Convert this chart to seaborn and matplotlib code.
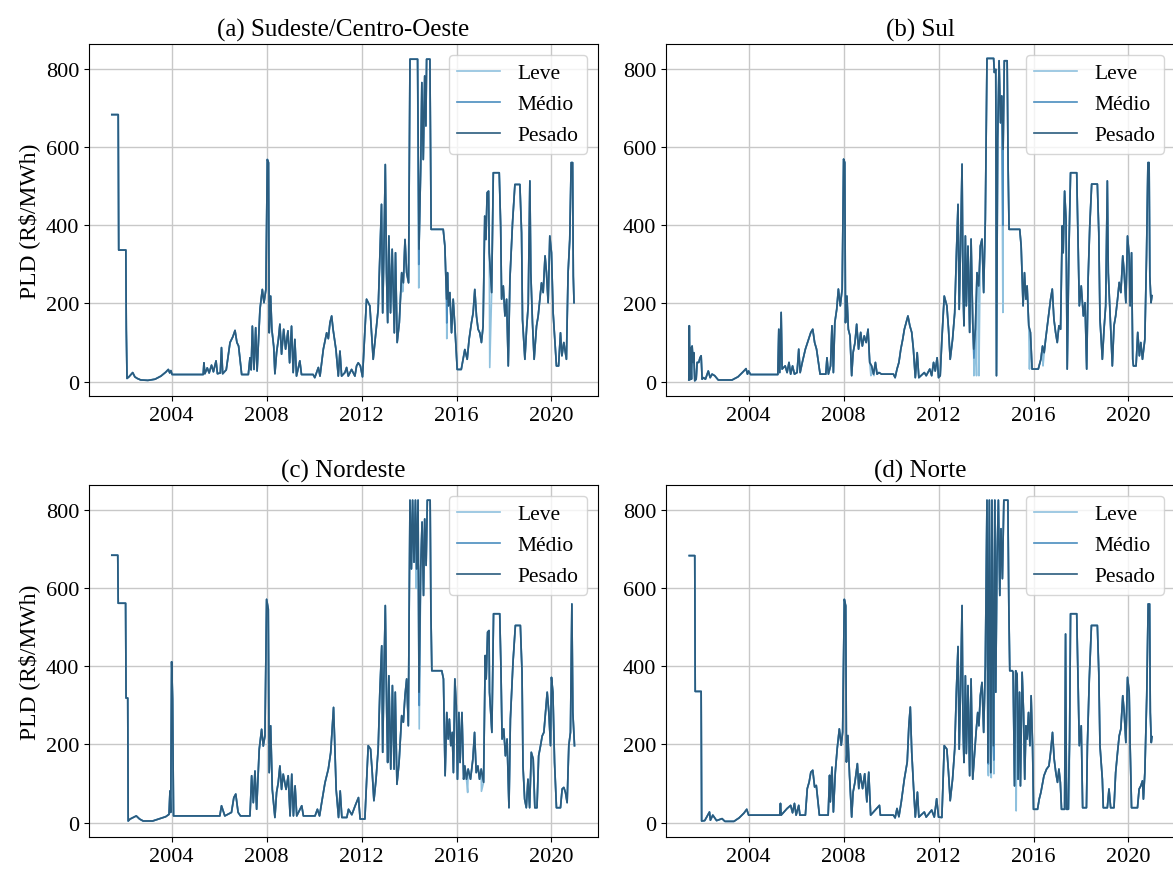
import pandas as pd
import seaborn as sns
import matplotlib.pyplot as plt

# PLD semanal por submercado (ano decimal, R$/MWh)
patamares = ["Leve", "Médio", "Pesado"]
cores = {"Leve": "#8fc1de", "Médio": "#4a8dbf", "Pesado": "#2b5c7e"}
titulos = ["(a) Sudeste/Centro-Oeste", "(b) Sul", "(c) Nordeste", "(d) Norte"]
anos_ticks = [2004, 2008, 2012, 2016, 2020]
pld_ticks = [0, 200, 400, 600, 800]

se_pesado = [
    (2001.48, 684), (2001.75, 684), (2001.77, 337), (2002.07, 337), (2002.09, 134), (2002.12, 8),
    (2002.20, 12), (2002.36, 23), (2002.45, 12), (2002.55, 8), (2002.70, 4), (2003.00, 3),
    (2003.30, 6), (2003.55, 14), (2003.75, 24), (2003.86, 31), (2003.92, 22), (2003.97, 28),
    (2004.02, 18), (2005.33, 18), (2005.36, 48), (2005.40, 20), (2005.50, 35), (2005.58, 22),
    (2005.68, 42), (2005.76, 25), (2005.87, 53), (2005.93, 20), (2006.05, 22), (2006.10, 87),
    (2006.15, 20), (2006.30, 30), (2006.46, 100), (2006.58, 115), (2006.67, 131), (2006.75, 100),
    (2006.82, 91), (2006.95, 18), (2007.23, 18), (2007.30, 61), (2007.35, 30), (2007.40, 142),
    (2007.47, 31), (2007.54, 138), (2007.60, 27), (2007.72, 185), (2007.82, 236), (2007.89, 202),
    (2007.97, 236), (2008.03, 569), (2008.08, 561), (2008.11, 125), (2008.17, 219), (2008.22, 134),
    (2008.30, 90), (2008.35, 20), (2008.42, 74), (2008.50, 110), (2008.56, 147), (2008.63, 70),
    (2008.72, 134), (2008.80, 83), (2008.90, 130), (2008.97, 48), (2009.05, 142), (2009.12, 23),
    (2009.19, 108), (2009.26, 14), (2009.40, 53), (2009.47, 18), (2009.96, 18), (2010.03, 10),
    (2010.18, 36), (2010.25, 14), (2010.39, 83), (2010.53, 125), (2010.60, 110), (2010.67, 151),
    (2010.74, 168), (2010.80, 134), (2010.92, 83), (2011.02, 14), (2011.09, 78), (2011.16, 14),
    (2011.30, 23), (2011.37, 36), (2011.44, 14), (2011.58, 31), (2011.72, 14), (2011.79, 40),
    (2011.86, 48), (2011.95, 40), (2012.04, 12), (2012.21, 211), (2012.35, 194), (2012.42, 125),
    (2012.49, 57), (2012.60, 125), (2012.70, 185), (2012.77, 322), (2012.84, 454), (2012.89, 176),
    (2012.94, 330), (2013.00, 556), (2013.05, 279), (2013.10, 151), (2013.15, 373), (2013.22, 176),
    (2013.29, 339), (2013.38, 125), (2013.43, 330), (2013.50, 100), (2013.59, 151), (2013.69, 279),
    (2013.76, 253), (2013.83, 364), (2013.90, 279), (2013.98, 253), (2014.04, 826), (2014.36, 826),
    (2014.42, 339), (2014.49, 546), (2014.54, 766), (2014.60, 569), (2014.66, 783), (2014.71, 655),
    (2014.74, 826), (2014.88, 826), (2014.91, 552), (2014.93, 390), (2015.44, 390), (2015.51, 347),
    (2015.58, 211), (2015.62, 279), (2015.66, 194), (2015.72, 228), (2015.79, 125), (2015.86, 211),
    (2015.93, 142), (2016.03, 31), (2016.20, 31), (2016.35, 82), (2016.45, 57), (2016.53, 108),
    (2016.63, 151), (2016.70, 176), (2016.77, 236), (2016.84, 168), (2016.91, 134), (2016.98, 125),
    (2017.05, 100), (2017.12, 142), (2017.19, 424), (2017.24, 364), (2017.29, 484), (2017.35, 488),
    (2017.38, 330), (2017.48, 228), (2017.55, 535), (2017.80, 535), (2017.86, 398), (2017.90, 211),
    (2017.97, 245), (2018.04, 168), (2018.11, 211), (2018.18, 40), (2018.25, 262), (2018.36, 407),
    (2018.46, 505), (2018.67, 505), (2018.74, 381), (2018.78, 159), (2018.88, 57), (2018.95, 134),
    (2019.02, 194), (2019.09, 514), (2019.13, 279), (2019.20, 151), (2019.27, 57), (2019.37, 142),
    (2019.44, 168), (2019.51, 211), (2019.58, 253), (2019.65, 228), (2019.73, 322), (2019.79, 279),
    (2019.86, 202), (2019.93, 373), (2020.00, 330), (2020.07, 176), (2020.21, 40), (2020.30, 40),
    (2020.38, 125), (2020.44, 66), (2020.52, 100), (2020.63, 57), (2020.70, 279), (2020.77, 364),
    (2020.83, 561), (2020.89, 561), (2020.92, 270), (2020.95, 202),
]
se_leve_vales = [(2013.73, 230), (2014.41, 240), (2015.59, 110), (2017.40, 36)]
se_medio_vales = [(2014.41, 300), (2015.59, 150)]

s_pesado = [
    (2001.48, 4), (2001.50, 143), (2001.53, 5), (2001.55, 87), (2001.59, 6), (2001.62, 91),
    (2001.66, 49), (2001.69, 74), (2001.73, 2), (2001.79, 6), (2001.83, 49), (2001.90, 49),
    (2001.95, 61), (2002.00, 66), (2002.04, 6), (2002.10, 10), (2002.18, 6), (2002.30, 27),
    (2002.38, 10), (2002.46, 19), (2002.57, 15), (2002.72, 4), (2003.30, 4), (2003.55, 12),
    (2003.75, 24), (2003.89, 33), (2003.95, 19), (2004.00, 27), (2004.08, 18), (2005.23, 18),
    (2005.27, 134), (2005.31, 23), (2005.37, 177), (2005.41, 32), (2005.54, 40), (2005.62, 23),
    (2005.70, 49), (2005.77, 19), (2005.85, 40), (2005.93, 19), (2006.04, 23), (2006.11, 83),
    (2006.17, 23), (2006.26, 49), (2006.39, 83), (2006.50, 104), (2006.62, 126), (2006.70, 134),
    (2006.78, 100), (2006.86, 83), (2007.01, 19), (2007.25, 19), (2007.30, 61), (2007.36, 19),
    (2007.45, 40), (2007.51, 143), (2007.57, 23), (2007.63, 151), (2007.71, 185), (2007.78, 237),
    (2007.86, 194), (2007.94, 237), (2008.00, 570), (2008.05, 561), (2008.08, 151), (2008.14, 219),
    (2008.20, 134), (2008.27, 117), (2008.34, 15), (2008.40, 74), (2008.48, 100), (2008.55, 147),
    (2008.63, 83), (2008.72, 126), (2008.79, 91), (2008.87, 117), (2008.95, 100), (2009.03, 134),
    (2009.10, 49), (2009.18, 40), (2009.26, 19), (2009.34, 49), (2009.41, 19), (2009.49, 23),
    (2009.60, 19), (2010.10, 19), (2010.17, 10), (2010.25, 32), (2010.33, 49), (2010.41, 83),
    (2010.49, 108), (2010.56, 134), (2010.71, 168), (2010.79, 143), (2010.87, 126), (2010.94, 83),
    (2011.02, 10), (2011.10, 74), (2011.17, 10), (2011.40, 23), (2011.48, 15), (2011.63, 32),
    (2011.71, 15), (2011.79, 49), (2011.86, 27), (2011.94, 61), (2012.00, 10), (2012.07, 15),
    (2012.14, 108), (2012.24, 219), (2012.35, 194), (2012.42, 134), (2012.49, 57), (2012.59, 108),
    (2012.68, 176), (2012.75, 322), (2012.82, 454), (2012.87, 185), (2012.93, 356), (2012.99, 557),
    (2013.03, 245), (2013.07, 143), (2013.13, 373), (2013.17, 194), (2013.24, 347), (2013.31, 126),
    (2013.37, 365), (2013.44, 151), (2013.48, 83), (2013.55, 134), (2013.62, 279), (2013.69, 245),
    (2013.76, 347), (2013.83, 365), (2013.90, 228), (2013.97, 416), (2014.04, 828), (2014.32, 828),
    (2014.35, 792), (2014.41, 800), (2014.44, 15), (2014.49, 621), (2014.55, 822), (2014.61, 663),
    (2014.66, 732), (2014.72, 595), (2014.77, 822), (2014.89, 822), (2014.93, 552), (2014.97, 390),
    (2015.42, 390), (2015.48, 347), (2015.56, 194), (2015.62, 279), (2015.68, 211), (2015.73, 245),
    (2015.80, 143), (2015.87, 126), (2015.94, 32), (2016.20, 32), (2016.31, 57), (2016.38, 91),
    (2016.45, 74), (2016.51, 108), (2016.58, 143), (2016.65, 177), (2016.72, 211), (2016.79, 237),
    (2016.86, 160), (2016.93, 126), (2017.00, 100), (2017.07, 143), (2017.14, 134), (2017.21, 399),
    (2017.25, 330), (2017.31, 488), (2017.37, 416), (2017.42, 32), (2017.49, 330), (2017.56, 535),
    (2017.82, 535), (2017.87, 382), (2017.93, 194), (2018.01, 245), (2018.10, 168), (2018.17, 202),
    (2018.24, 32), (2018.30, 262), (2018.37, 399), (2018.45, 506), (2018.69, 506), (2018.75, 382),
    (2018.80, 160), (2018.90, 57), (2018.97, 134), (2019.04, 194), (2019.11, 514), (2019.15, 279),
    (2019.24, 151), (2019.32, 40), (2019.39, 143), (2019.46, 168), (2019.54, 211), (2019.61, 254),
    (2019.68, 228), (2019.76, 322), (2019.82, 279), (2019.89, 202), (2019.96, 373), (2020.03, 322),
    (2020.07, 194), (2020.13, 330), (2020.18, 57), (2020.21, 40), (2020.32, 40), (2020.39, 126),
    (2020.46, 66), (2020.52, 100), (2020.59, 57), (2020.69, 108), (2020.76, 322), (2020.82, 561),
    (2020.87, 561), (2020.90, 270), (2020.95, 202), (2020.99, 220),
]
s_leve_vales = [(2009.15, 15), (2009.28, 15), (2013.49, 15), (2013.60, 15), (2013.70, 15),
                (2014.71, 177), (2015.83, 32), (2016.40, 40)]
s_medio_vales = [(2013.49, 60), (2014.71, 400)]

ne_pesado = [
    (2001.48, 685), (2001.73, 685), (2001.75, 562), (2002.06, 562), (2002.08, 319), (2002.15, 319),
    (2002.17, 4), (2002.25, 9), (2002.51, 17), (2002.65, 9), (2002.80, 4), (2003.20, 4),
    (2003.50, 10), (2003.75, 15), (2003.89, 21), (2003.93, 81), (2003.96, 26), (2004.00, 412),
    (2004.04, 316), (2004.08, 17), (2006.03, 17), (2006.10, 43), (2006.17, 30), (2006.24, 17),
    (2006.52, 26), (2006.62, 64), (2006.70, 73), (2006.80, 26), (2006.90, 17), (2007.30, 17),
    (2007.37, 120), (2007.44, 51), (2007.51, 132), (2007.58, 34), (2007.69, 188), (2007.79, 239),
    (2007.86, 196), (2007.93, 222), (2008.00, 572), (2008.07, 547), (2008.11, 128), (2008.17, 248),
    (2008.24, 85), (2008.35, 13), (2008.42, 77), (2008.49, 102), (2008.56, 145), (2008.63, 85),
    (2008.70, 124), (2008.82, 85), (2008.91, 120), (2008.99, 17), (2009.06, 124), (2009.13, 17),
    (2009.20, 94), (2009.27, 17), (2009.48, 43), (2009.55, 17), (2010.04, 17), (2010.14, 34),
    (2010.23, 17), (2010.32, 51), (2010.46, 102), (2010.60, 137), (2010.70, 179), (2010.82, 295),
    (2010.86, 222), (2010.93, 85), (2011.03, 13), (2011.10, 81), (2011.17, 13), (2011.38, 13),
    (2011.45, 34), (2011.59, 20), (2011.73, 43), (2011.87, 64), (2011.94, 9), (2012.14, 9),
    (2012.28, 197), (2012.38, 188), (2012.45, 128), (2012.52, 56), (2012.61, 111), (2012.70, 188),
    (2012.77, 334), (2012.85, 453), (2012.89, 180), (2012.94, 368), (2013.00, 556), (2013.06, 282),
    (2013.10, 154), (2013.15, 376), (2013.23, 137), (2013.30, 351), (2013.37, 137), (2013.42, 334),
    (2013.49, 98), (2013.58, 154), (2013.69, 274), (2013.76, 257), (2013.83, 325), (2013.90, 368),
    (2013.97, 248), (2014.04, 826), (2014.10, 650), (2014.15, 826), (2014.21, 667), (2014.27, 826),
    (2014.32, 650), (2014.38, 826), (2014.42, 334), (2014.49, 650), (2014.55, 770), (2014.61, 582),
    (2014.66, 778), (2014.72, 659), (2014.77, 826), (2014.89, 826), (2014.92, 548), (2014.96, 389),
    (2015.38, 389), (2015.45, 368), (2015.52, 120), (2015.59, 282), (2015.65, 214), (2015.70, 265),
    (2015.76, 197), (2015.82, 231), (2015.87, 128), (2015.93, 368), (2015.99, 299), (2016.04, 111),
    (2016.10, 282), (2016.15, 154), (2016.23, 282), (2016.30, 111), (2016.35, 145), (2016.42, 111),
    (2016.49, 137), (2016.59, 111), (2016.69, 163), (2016.76, 231), (2016.83, 128), (2016.90, 145),
    (2016.97, 111), (2017.04, 137), (2017.14, 103), (2017.21, 428), (2017.25, 368), (2017.31, 488),
    (2017.37, 492), (2017.39, 334), (2017.49, 231), (2017.56, 535), (2017.82, 535), (2017.87, 402),
    (2017.92, 214), (2017.99, 240), (2018.06, 171), (2018.13, 214), (2018.21, 38), (2018.27, 265),
    (2018.38, 411), (2018.48, 505), (2018.69, 505), (2018.76, 385), (2018.80, 145), (2018.87, 60),
    (2018.94, 38), (2019.01, 111), (2019.08, 38), (2019.15, 180), (2019.23, 163), (2019.30, 38),
    (2019.39, 38), (2019.46, 171), (2019.54, 197), (2019.61, 222), (2019.68, 231), (2019.75, 282),
    (2019.82, 334), (2019.89, 282), (2019.96, 197), (2020.00, 372), (2020.06, 334), (2020.13, 154),
    (2020.21, 38), (2020.38, 38), (2020.45, 86), (2020.52, 90), (2020.59, 77), (2020.66, 51),
    (2020.73, 197), (2020.80, 231), (2020.86, 560), (2020.90, 282), (2020.94, 231), (2020.97, 197),
]
ne_leve_vales = [(2014.30, 600), (2014.43, 240), (2016.47, 77), (2017.05, 80)]
ne_medio_vales = [(2014.43, 300)]

n_pesado = [
    (2001.50, 684), (2001.73, 684), (2001.75, 336), (2002.00, 336), (2002.02, 4), (2002.15, 5),
    (2002.35, 27), (2002.39, 6), (2002.49, 19), (2002.65, 5), (2002.88, 10), (2003.00, 3),
    (2003.38, 3), (2003.60, 12), (2003.80, 24), (2003.92, 34), (2004.00, 19), (2005.31, 19),
    (2005.34, 49), (2005.37, 19), (2005.62, 36), (2005.77, 44), (2005.85, 25), (2005.93, 49),
    (2006.00, 19), (2006.11, 44), (2006.16, 19), (2006.39, 19), (2006.47, 87), (2006.55, 104),
    (2006.62, 129), (2006.70, 134), (2006.78, 91), (2006.85, 95), (2006.98, 19), (2007.35, 19),
    (2007.41, 121), (2007.44, 53), (2007.51, 142), (2007.57, 27), (2007.65, 129), (2007.73, 189),
    (2007.82, 240), (2007.90, 198), (2007.96, 232), (2008.03, 572), (2008.09, 555), (2008.12, 155),
    (2008.18, 223), (2008.25, 121), (2008.34, 14), (2008.40, 78), (2008.48, 104), (2008.58, 151),
    (2008.64, 87), (2008.70, 125), (2008.80, 87), (2008.89, 125), (2008.98, 53), (2009.06, 129),
    (2009.14, 19), (2009.51, 44), (2009.55, 19), (2010.10, 19), (2010.17, 12), (2010.25, 36),
    (2010.33, 15), (2010.43, 53), (2010.56, 112), (2010.68, 155), (2010.75, 249), (2010.81, 296),
    (2010.87, 181), (2010.95, 87), (2011.02, 14), (2011.11, 78), (2011.17, 14), (2011.40, 27),
    (2011.48, 14), (2011.71, 32), (2011.82, 14), (2011.92, 61), (2012.00, 14), (2012.14, 13),
    (2012.24, 197), (2012.35, 188), (2012.42, 128), (2012.49, 56), (2012.59, 111), (2012.68, 188),
    (2012.75, 334), (2012.82, 451), (2012.87, 188), (2012.93, 351), (2012.99, 556), (2013.03, 248),
    (2013.07, 154), (2013.13, 376), (2013.17, 177), (2013.24, 351), (2013.31, 120), (2013.37, 368),
    (2013.44, 111), (2013.51, 171), (2013.58, 231), (2013.65, 282), (2013.70, 248), (2013.76, 325),
    (2013.83, 359), (2013.90, 231), (2013.97, 402), (2014.04, 826), (2014.08, 154), (2014.14, 826),
    (2014.20, 128), (2014.25, 826), (2014.31, 197), (2014.37, 826), (2014.41, 334), (2014.46, 667),
    (2014.52, 826), (2014.58, 582), (2014.63, 753), (2014.69, 625), (2014.75, 826), (2014.92, 826),
    (2014.96, 556), (2015.00, 389), (2015.11, 389), (2015.14, 385), (2015.20, 94), (2015.25, 389),
    (2015.31, 380), (2015.35, 111), (2015.41, 334), (2015.45, 94), (2015.52, 385), (2015.58, 282),
    (2015.63, 111), (2015.68, 248), (2015.73, 214), (2015.79, 282), (2015.85, 197), (2015.90, 325),
    (2015.96, 197), (2016.00, 34), (2016.17, 34), (2016.24, 60), (2016.31, 77), (2016.44, 120),
    (2016.55, 137), (2016.65, 145), (2016.72, 180), (2016.80, 231), (2016.87, 163), (2016.94, 128),
    (2017.01, 103), (2017.07, 137), (2017.13, 103), (2017.18, 34), (2017.31, 34), (2017.35, 483),
    (2017.39, 34), (2017.46, 34), (2017.52, 214), (2017.56, 535), (2017.82, 535), (2017.87, 385),
    (2017.93, 197), (2018.01, 248), (2018.07, 38), (2018.23, 38), (2018.27, 197), (2018.35, 368),
    (2018.44, 505), (2018.69, 505), (2018.75, 385), (2018.80, 197), (2018.90, 111), (2018.94, 38),
    (2019.11, 38), (2019.18, 86), (2019.25, 38), (2019.39, 38), (2019.46, 128), (2019.54, 180),
    (2019.61, 222), (2019.68, 240), (2019.76, 325), (2019.82, 282), (2019.89, 205), (2019.96, 372),
    (2020.03, 334), (2020.07, 197), (2020.13, 38), (2020.38, 38), (2020.45, 86), (2020.52, 94),
    (2020.59, 107), (2020.63, 60), (2020.69, 128), (2020.77, 325), (2020.83, 560), (2020.89, 560),
    (2020.92, 282), (2020.96, 205), (2020.99, 220),
]
n_leve_vales = [(2014.10, 120), (2014.22, 115), (2014.33, 125), (2015.27, 30), (2017.50, 35)]
n_medio_vales = [(2014.10, 150), (2014.33, 160)]

regioes = [
    (se_pesado, se_leve_vales, se_medio_vales),
    (s_pesado, s_leve_vales, s_medio_vales),
    (ne_pesado, ne_leve_vales, ne_medio_vales),
    (n_pesado, n_leve_vales, n_medio_vales),
]


def montar(pesado, leve_vales, medio_vales):
    # Leve/Médio seguem o Pesado, exceto nos vales onde aparecem abaixo dele
    linhas = []
    for pat, vales in (("Leve", leve_vales), ("Médio", medio_vales), ("Pesado", [])):
        for ano, v in sorted(pesado + vales):
            linhas.append((ano, v, pat))
    return pd.DataFrame(linhas, columns=["ano", "PLD", "patamar"])


plt.rcParams["font.family"] = ["Liberation Serif", "DejaVu Serif"]
plt.rcParams["font.size"] = 15

fig = plt.figure(figsize=(11.73, 8.7), dpi=100)
posicoes = [
    [0.0759, 0.5437, 0.4339, 0.4046],
    [0.5678, 0.5437, 0.4339, 0.4046],
    [0.0759, 0.0368, 0.4339, 0.4046],
    [0.5678, 0.0368, 0.4339, 0.4046],
]

for i, (dados, titulo, pos) in enumerate(zip(regioes, titulos, posicoes)):
    ax = fig.add_axes(pos)
    df = montar(*dados)
    sns.lineplot(data=df, x="ano", y="PLD", hue="patamar", hue_order=patamares,
                 palette=cores, estimator=None, errorbar=None, linewidth=1.2, ax=ax)
    ax.set_xlim(2000.52, 2021.96)
    ax.set_ylim(-37, 865)
    ax.set_xticks(anos_ticks)
    ax.set_yticks(pld_ticks)
    ax.tick_params(labelsize=16)
    ax.grid(True, color="#c8c8c8", linewidth=1.0)
    ax.set_axisbelow(True)
    ax.set_title(titulo, fontsize=18)
    ax.set_xlabel("")
    ax.set_ylabel(r"PLD (R\$/MWh)" if i % 2 == 0 else "", fontsize=17)
    sns.move_legend(ax, "upper right", title=None, fontsize=15.5)

fig.savefig("out.png", dpi=100)
